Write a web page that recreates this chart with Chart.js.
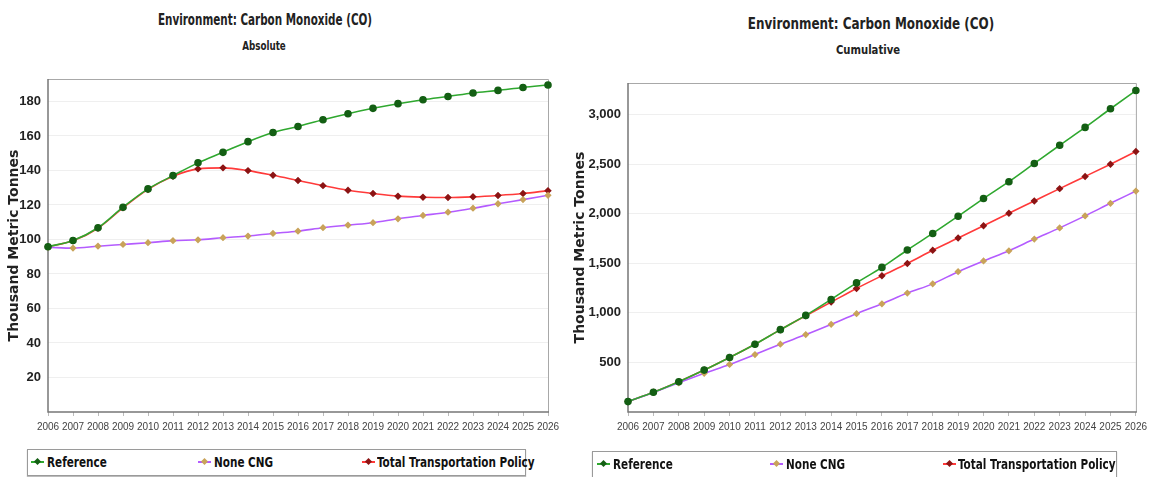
<!DOCTYPE html>
<html>
<head>
<meta charset="utf-8">
<script src="https://cdn.jsdelivr.net/npm/chart.js@4/dist/chart.umd.min.js"></script>
<style>
  html, body { margin:0; padding:0; background:#fff; width:1152px; height:477px; overflow:hidden; }
  .box { position:absolute; }
  .ttl { position:absolute; font-family:'DejaVu Sans Condensed','DejaVu Sans',sans-serif; font-weight:bold; color:#222; white-space:nowrap; transform-origin:50% 50%; }
  .legend { position:absolute; border:1px solid #9a9a9a; box-shadow:0 1px 1px #bbb; background:#fff; }
  .li { position:absolute; top:3px; font-family:'DejaVu Sans Condensed','DejaVu Sans',sans-serif; font-weight:bold; font-size:14px; color:#111; white-space:nowrap; line-height:18px; transform:scaleX(0.83); transform-origin:0 50%; }
  .mk { position:absolute; top:11px; width:13px; height:2px; }
  .mk i { position:absolute; left:4px; top:-2px; width:5px; height:5px; transform:rotate(45deg); }
</style>
</head>
<body>
<div class="ttl" style="left:265px;top:11px;font-size:15px;transform:translateX(-50%) scaleX(0.77);">Environment: Carbon Monoxide (CO)</div>
<div class="ttl" style="left:264px;top:39px;font-size:12px;transform:translateX(-50%) scaleX(0.81);">Absolute</div>
<div class="ttl" style="left:871px;top:14px;font-size:16px;transform:translateX(-50%) scaleX(0.83);">Environment: Carbon Monoxide (CO)</div>
<div class="ttl" style="left:868px;top:42px;font-size:13px;transform:translateX(-50%) scaleX(0.86);">Cumulative</div>

<div class="box" style="left:0;top:0;width:576px;height:445px;"><canvas id="c1" width="576" height="445"></canvas></div>
<div class="box" style="left:566px;top:0;width:586px;height:445px;"><canvas id="c2" width="586" height="445"></canvas></div>

<div class="legend" id="lg1" style="left:27px;top:449px;width:497px;height:25px;"></div>
<div class="legend" id="lg2" style="left:592px;top:451px;width:523px;height:25px;"></div>

<script>
const years = ['2006','2007','2008','2009','2010','2011','2012','2013','2014','2015','2016','2017','2018','2019','2020','2021','2022','2023','2024','2025','2026'];
const seriesNames = ['Reference', 'None CNG', 'Total Transportation Policy'];

// Absolute (Thousand Metric Tonnes)
const absReference = [95.8, 99.4, 106.8, 118.7, 129.3, 137.0, 144.4, 150.5, 156.7, 162.0, 165.5, 169.4, 172.9, 176.0, 178.7, 181.0, 182.9, 184.9, 186.4, 188.1, 189.5];
const absNoneCNG   = [95.5, 95.0, 96.1, 97.1, 98.1, 99.3, 99.8, 101.0, 102.0, 103.5, 104.8, 106.8, 108.3, 109.7, 112.0, 113.9, 115.8, 118.1, 120.7, 123.1, 125.6];
const absTotalPolicy = [95.8, 99.2, 106.5, 118.3, 129.0, 136.6, 140.9, 141.5, 139.9, 137.2, 134.2, 131.2, 128.5, 126.6, 125.1, 124.5, 124.3, 124.7, 125.5, 126.6, 128.3];

// Cumulative (Thousand Metric Tonnes)
const cumReference = [105, 199, 306, 423, 550, 684, 831, 975, 1136, 1303, 1459, 1635, 1802, 1976, 2154, 2324, 2508, 2692, 2872, 3060, 3244];
const cumNoneCNG   = [105, 197, 295, 390, 480, 580, 684, 781, 885, 992, 1092, 1200, 1293, 1416, 1524, 1627, 1745, 1858, 1979, 2106, 2230];
const cumTotalPolicy = [105, 199, 306, 423, 550, 684, 831, 972, 1109, 1247, 1375, 1499, 1632, 1755, 1879, 2006, 2130, 2254, 2377, 2501, 2628];

// Y tick labels
const absTicks = [20, 40, 60, 80, 100, 120, 140, 160, 180];
const cumTicks = [500, 1000, 1500, 2000, 2500, 3000];
const absRange = { min: 0, max: 193 };
const cumRange = { min: 0, max: 3320 };

const styles = [
  { line:'#2fa82f', point:'#145f14', shape:'circle', r:3 },
  { line:'#b45cff', point:'#c9a35a', shape:'rectRot', r:2.5 },
  { line:'#ff3a3a', point:'#8c1414', shape:'rectRot', r:2.6 }
];

const frame = {
  id: 'frame',
  beforeDatasetsDraw(chart) {
    const a = chart.chartArea, ctx = chart.ctx;
    ctx.save();
    ctx.strokeStyle = '#a8a8a8'; ctx.lineWidth = 1;
    ctx.beginPath();
    ctx.moveTo(a.left, a.top + 0.5); ctx.lineTo(a.right + 0.5, a.top + 0.5); ctx.lineTo(a.right + 0.5, a.bottom);
    ctx.stroke();
    ctx.strokeStyle = '#777'; ctx.lineWidth = 1.5;
    ctx.beginPath();
    ctx.moveTo(a.left, a.top); ctx.lineTo(a.left, a.bottom); ctx.lineTo(a.right + 1, a.bottom);
    ctx.stroke();
    ctx.restore();
  }
};

function makeChart(id, data, range, tickVals, pad, yWidth) {
  const sets = data.map((vals, i) => ({
    label: seriesNames[i],
    data: vals,
    borderColor: styles[i].line,
    backgroundColor: styles[i].point,
    pointBackgroundColor: styles[i].point,
    pointBorderColor: styles[i].point,
    pointStyle: styles[i].shape,
    pointRadius: styles[i].r,
    borderWidth: 1.6,
    cubicInterpolationMode: 'monotone',
    fill: false
  }));
  return new Chart(document.getElementById(id), {
    type: 'line',
    data: { labels: years, datasets: sets },
    plugins: [frame],
    options: {
      responsive: false,
      animation: false,
      layout: { padding: pad },
      plugins: { legend: { display: false }, title: { display: false }, tooltip: { enabled: false } },
      scales: {
        x: {
          offset: false,
          afterFit(s) { s.height = 33; },
          grid: { display: true, drawOnChartArea: false, tickLength: 4, color: '#bbb' },
          border: { display: false },
          ticks: { padding: 5, maxRotation: 0, autoSkip: false, color: '#444',
                   font: { family: "'Liberation Sans', sans-serif", size: 10 } }
        },
        y: {
          min: range.min, max: range.max,
          afterFit(s) { s.width = yWidth; },
          afterBuildTicks(s) { s.ticks = tickVals.map(v => ({ value: v })); },
          grid: { color: '#efefef', drawTicks: false, lineWidth: 1 },
          border: { display: false },
          ticks: {
            padding: 7, color: '#222',
            font: { family: "'Liberation Sans', sans-serif", size: 13, weight: 'bold' },
            callback: v => v.toLocaleString('en-US')
          },
          title: {
            display: true, text: 'Thousand Metric Tonnes', color: '#222',
            padding: { top: 6, bottom: 0 },
            font: { family: "'DejaVu Sans', sans-serif", size: 14, weight: 'bold' }
          }
        }
      }
    }
  });
}

const ch1 = makeChart('c1', [absReference, absNoneCNG, absTotalPolicy], absRange, absTicks, { top: 79, right: 28, left: 0, bottom: 0 }, 48);
const ch2 = makeChart('c2', [cumReference, cumNoneCNG, cumTotalPolicy], cumRange, cumTicks, { top: 83, right: 14, left: 0, bottom: 0 }, 62);

function buildLegend(chart, el, xs) {
  chart.data.datasets.forEach((ds, i) => {
    const mk = document.createElement('span');
    mk.className = 'mk';
    mk.style.left = xs[i][0] + 'px';
    mk.style.background = ds.borderColor;
    const d = document.createElement('i');
    d.style.background = ds.pointBackgroundColor;
    mk.appendChild(d);
    el.appendChild(mk);
    const t = document.createElement('span');
    t.className = 'li';
    t.style.left = xs[i][1] + 'px';
    t.textContent = ds.label;
    el.appendChild(t);
  });
}
buildLegend(ch1, document.getElementById('lg1'), [[3, 19], [170, 186], [334, 349]]);
buildLegend(ch2, document.getElementById('lg2'), [[4, 20], [177, 193], [350, 365]]);
</script>
</body>
</html>
